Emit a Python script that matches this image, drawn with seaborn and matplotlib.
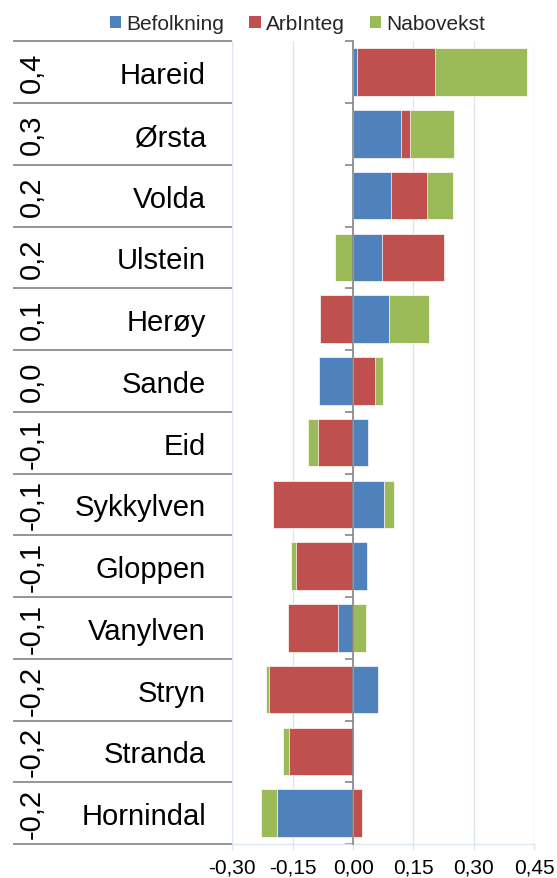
import numpy as np
import pandas as pd
import matplotlib
matplotlib.use("Agg")
import matplotlib.pyplot as plt
from matplotlib.patches import Patch
import seaborn as sns

# --- data -------------------------------------------------------------
kommuner = ["Hareid", "Ørsta", "Volda", "Ulstein", "Herøy", "Sande", "Eid",
            "Sykkylven", "Gloppen", "Vanylven", "Stryn", "Stranda", "Hornindal"]
sum_labels = ["0,4", "0,3", "0,2", "0,2", "0,1", "0,0", "-0,1",
              "-0,1", "-0,1", "-0,1", "-0,2", "-0,2", "-0,2"]
befolkning = [0.010, 0.120, 0.093, 0.072, 0.089, -0.084, 0.038,
              0.076, 0.035, -0.037, 0.063, 0.000, -0.190]
arbinteg = [0.193, 0.021, 0.090, 0.154, -0.081, 0.054, -0.087,
            -0.200, -0.141, -0.124, -0.209, -0.160, 0.021]
nabovekst = [0.229, 0.110, 0.065, -0.046, 0.100, 0.020, -0.025,
             0.026, -0.012, 0.033, -0.007, -0.014, -0.039]
series_names = ["Befolkning", "ArbInteg", "Nabovekst"]
x_ticks = [-0.30, -0.15, 0.00, 0.15, 0.30, 0.45]
x_ticklabels = ["-0,30", "-0,15", "0,00", "0,15", "0,30", "0,45"]

colors = {"Befolkning": "#4F81BD", "ArbInteg": "#C0504D", "Nabovekst": "#9BBB59"}

# --- stacking (positive and negative parts stack separately) ----------
df = pd.DataFrame({"Kommune": kommuner, "Befolkning": befolkning,
                   "ArbInteg": arbinteg, "Nabovekst": nabovekst})
pos = df[series_names].clip(lower=0).cumsum(axis=1)
neg = df[series_names].clip(upper=0).cumsum(axis=1)
for s in series_names:
    df[s + "_pos"] = pos[s]
    df[s + "_neg"] = neg[s]

sns.set_theme(style="white")
plt.rcParams["font.family"] = ["Liberation Sans", "DejaVu Sans"]

W, H = 557, 879
fig = plt.figure(figsize=(W / 100, H / 100), dpi=100)
ax_left, ax_right, ax_top, ax_bottom = 232.3, 534.3, 42.3, 845.0
ax = fig.add_axes([ax_left / W, 1 - ax_bottom / H,
                   (ax_right - ax_left) / W, (ax_bottom - ax_top) / H])

# outermost cumulative segment first, inner ones painted over it
for side in ("_pos", "_neg"):
    for s in reversed(series_names):
        sns.barplot(data=df, x=s + side, y="Kommune", order=kommuner,
                    orient="h", color=colors[s], saturation=1, width=0.77,
                    errorbar=None, edgecolor="white", linewidth=0.5, ax=ax)

ax.set_xlim(-0.30, 0.45)
ax.set_ylim(len(kommuner) - 0.5, -0.5)
ax.set_xlabel("")
ax.set_ylabel("")

grid_c = "#DCE6F2"
axis_c = "#868686"
ax.set_axisbelow(True)
ax.set_xticks(x_ticks)
ax.set_xticklabels(x_ticklabels, fontsize=15, color="black")
ax.xaxis.grid(True, color=grid_c, linewidth=1.0)
ax.yaxis.grid(False)
ax.tick_params(axis="x", direction="out", length=4.5, width=1.0,
               color=grid_c, pad=5, bottom=True)

# category axis at zero with ticks on the row boundaries
bounds = np.arange(-0.5, len(kommuner), 1.0)
ax.set_yticks(bounds)
ax.set_yticklabels([""] * len(bounds))
ax.tick_params(axis="y", direction="out", length=5.5, width=1.2,
               color=axis_c, left=True)
ax.spines["left"].set_position(("data", 0))
ax.spines["left"].set_color(axis_c)
ax.spines["left"].set_linewidth(1.2)
ax.spines["left"].set_zorder(5)
ax.spines["bottom"].set_color(grid_c)
ax.spines["bottom"].set_linewidth(1.0)
ax.spines["top"].set_visible(False)
ax.spines["right"].set_visible(False)

# label table on the left: sums (rotated) and names
ytr = ax.get_yaxis_transform()
x_tab0 = (13.3 - ax_left) / (ax_right - ax_left)
x_name = (206.0 - ax_left) / (ax_right - ax_left)
x_sum = (31.7 - ax_left) / (ax_right - ax_left)
for b in bounds:
    ax.plot([x_tab0, 0], [b, b], transform=ytr, clip_on=False,
            color="#8C8C8C", linewidth=1.3, solid_capstyle="butt")
for i, (name, lab) in enumerate(zip(kommuner, sum_labels)):
    ax.text(x_name, i + 0.05, name, transform=ytr, ha="right", va="center",
            fontsize=21, color="black")
    ax.text(x_sum, i, lab, transform=ytr, ha="center", va="center",
            rotation=90, fontsize=21, color="black")

handles = [Patch(facecolor=colors[s], edgecolor="none") for s in series_names]
fig.legend(handles, series_names, loc="center", bbox_to_anchor=(297.5 / W, 1 - 25 / H),
           ncol=3, frameon=False, fontsize=15, handlelength=0.55, handleheight=0.55,
           handletextpad=0.25, columnspacing=1.2, borderaxespad=0, borderpad=0)

fig.savefig("out.png", dpi=100)
